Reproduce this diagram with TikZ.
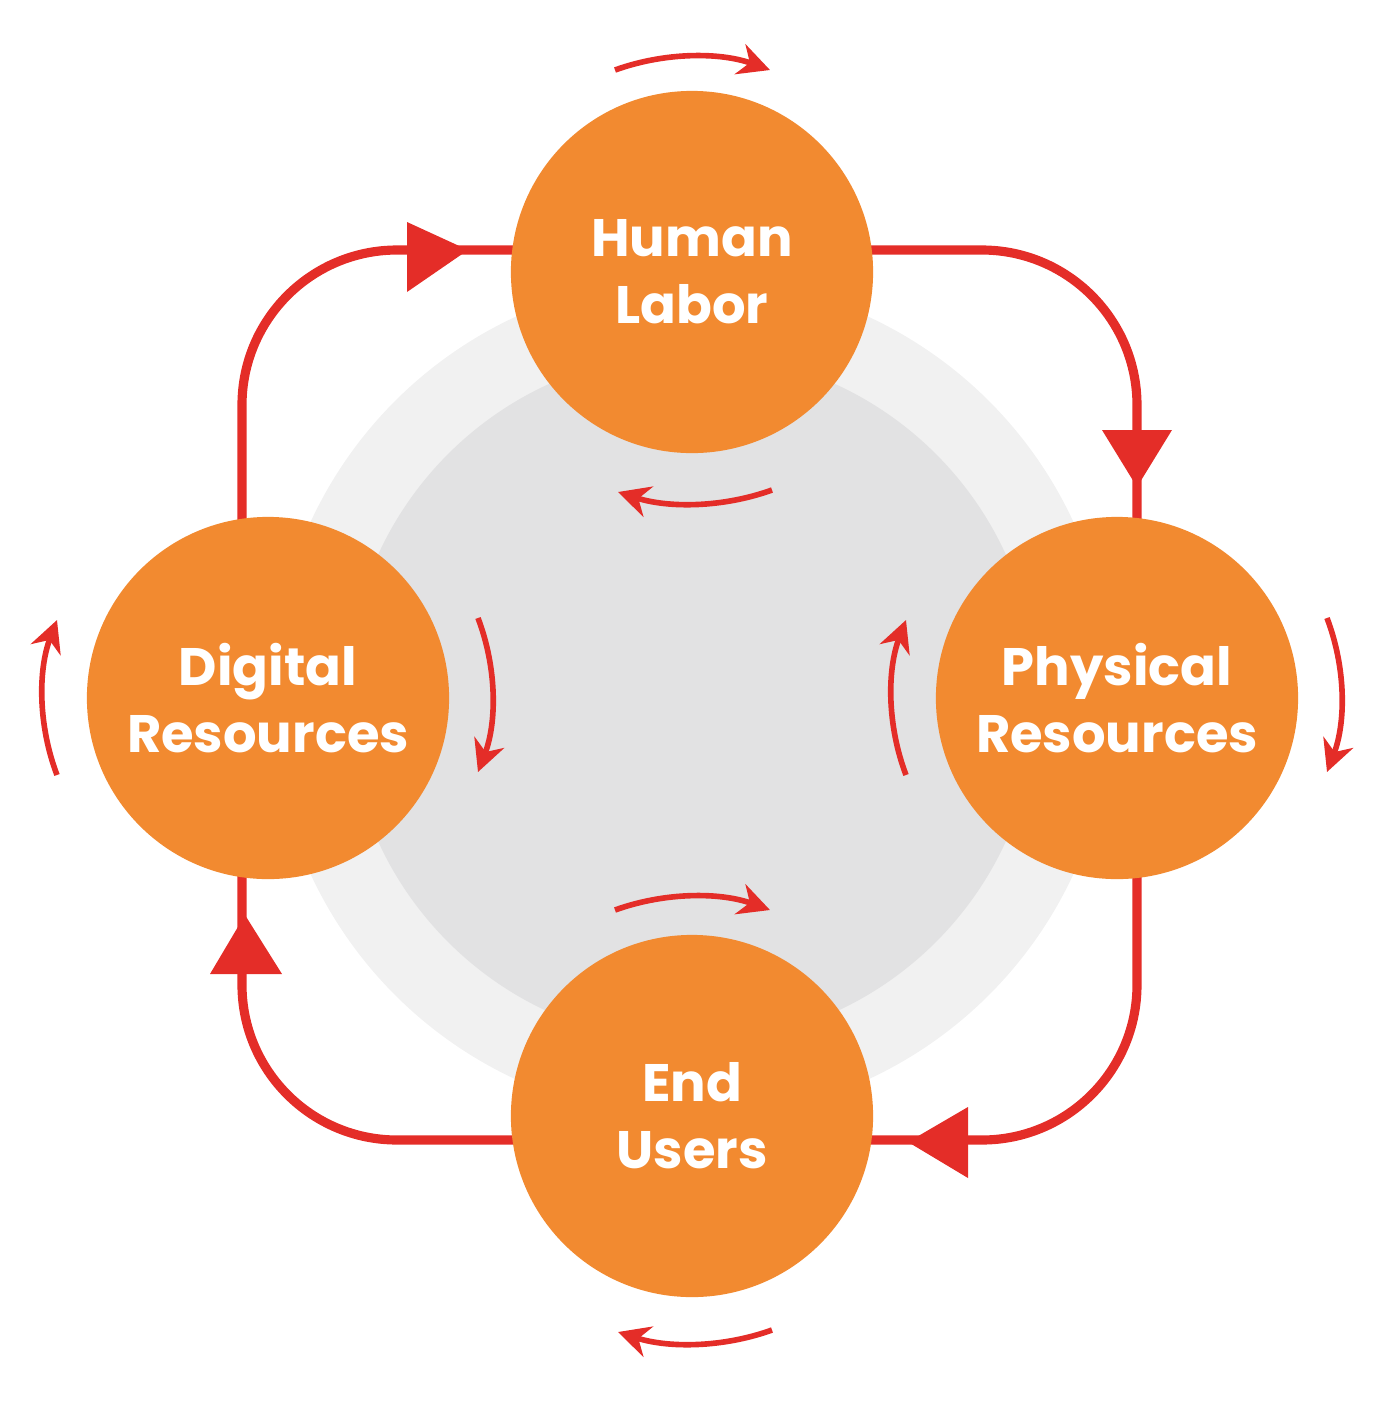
\documentclass[tikz,border=0pt]{standalone}
\usepackage{fontspec}
\setmainfont{Poppins}
\usetikzlibrary{arrows.meta}
\definecolor{rd}{HTML}{E42D28}
\definecolor{og}{HTML}{F28A30}
\definecolor{g1}{HTML}{F1F1F1}
\definecolor{g2}{HTML}{E2E2E3}
\begin{document}
\begin{tikzpicture}[x=0.01cm,y=-0.01cm,
  bub/.style={circle,fill=og,minimum size=3.62cm,inner sep=0pt,align=center,text=white,font=\fontsize{15}{19}\selectfont\bfseries},
  tri/.style={fill=rd},
  sm/.style={draw=rd,line width=1.6pt,-{Stealth[length=9pt,width=9pt]}}]
\useasboundingbox (0,0) rectangle (1385,1408);
\fill[g1] (692,698) circle (420);
\fill[g2] (692,698) circle (345);
\draw[rd,line width=2.6pt,rounded corners=1.55cm] (242,250) rectangle (1137,1140);
\fill[tri] (468,250) -- (407,222) -- (407,292) -- cycle;
\fill[tri] (1137,487) -- (1102,430) -- (1172,430) -- cycle;
\fill[tri] (908,1142) -- (968,1107) -- (968,1178) -- cycle;
\fill[tri] (245,915) -- (210,974) -- (282,974) -- cycle;
\node[bub] (H) at (692,272) {Human\\Labor};
\node[bub] (P) at (1117,698) {Physical\\Resources};
\node[bub] (D) at (268,698) {Digital\\Resources};
\node[bub] (E) at (692,1116) {End\\Users};
% small arcs
\draw[sm] (615,70) .. controls (665,52) and (720,52) .. (770,70);
\draw[sm] (772,490) .. controls (722,508) and (668,508) .. (618,492);
\draw[sm] (57,775) .. controls (38,725) and (38,670) .. (57,620);
\draw[sm] (478,618) .. controls (497,668) and (497,722) .. (478,772);
\draw[sm] (906,775) .. controls (887,725) and (887,670) .. (906,620);
\draw[sm] (1327,618) .. controls (1346,668) and (1346,722) .. (1327,772);
\draw[sm] (615,910) .. controls (665,892) and (720,892) .. (770,910);
\draw[sm] (772,1330) .. controls (722,1348) and (668,1348) .. (618,1332);
\end{tikzpicture}
\end{document}
